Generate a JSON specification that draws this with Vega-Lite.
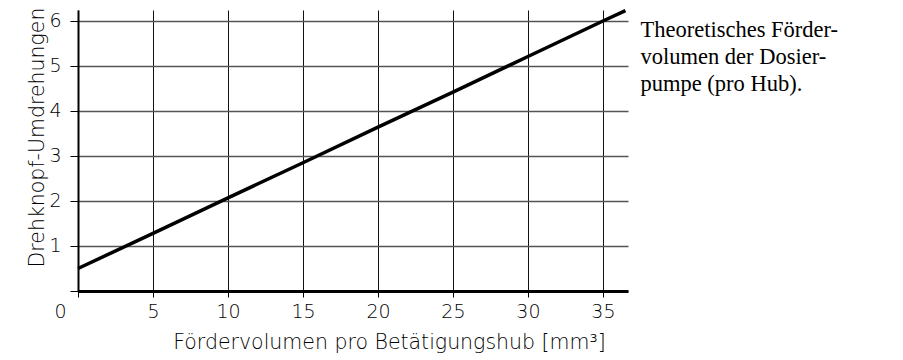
{
  "$schema": "https://vega.github.io/schema/vega-lite/v6.json",
  "width": 550,
  "height": 281,
  "autosize": {"type": "none"},
  "padding": {"left": 78, "top": 10, "right": 275, "bottom": 69},
  "background": "white",
  "config": {
    "view": {"stroke": null},
    "axis": {
      "labelFont": "DejaVu Sans",
      "labelFontWeight": 200,
      "labelFontSize": 19,
      "labelColor": "#000",
      "titleFont": "DejaVu Sans",
      "titleFontWeight": 200,
      "titleFontSize": 20.5,
      "titleColor": "#000",
      "tickColor": "#000",
      "domainColor": "#000"
    }
  },
  "layer": [
    {
      "data": {
        "values": [
          {"v": 0, "u": 0.5},
          {"v": 5, "u": 1.28},
          {"v": 10, "u": 2.07},
          {"v": 15, "u": 2.85},
          {"v": 20, "u": 3.64},
          {"v": 25, "u": 4.42},
          {"v": 30, "u": 5.21},
          {"v": 35, "u": 6.0},
          {"v": 36.5, "u": 6.23}
        ]
      },
      "mark": {"type": "line", "color": "#000", "strokeWidth": 3.5, "clip": false},
      "encoding": {
        "x": {
          "field": "v",
          "type": "quantitative",
          "scale": {"domain": [0, 36.67], "nice": false, "zero": false},
          "axis": {
            "values": [0, 5, 10, 15, 20, 25, 30, 35],
            "title": "Fördervolumen pro Betätigungshub [mm³]",
            "titleX": 311,
            "titleY": 57,
            "titleBaseline": "alphabetic",
            "domainWidth": 3,
            "tickSize": 6,
            "tickWidth": 1,
            "labelPadding": 5,
            "labelFlush": false,
            "labelOffset": {"condition": {"test": "datum.value == 0", "value": -18}, "value": 0},
            "grid": true,
            "gridColor": "#111",
            "gridWidth": 1,
            "gridOpacity": 1
          }
        },
        "y": {
          "field": "u",
          "type": "quantitative",
          "scale": {"domain": [0, 6.244], "nice": false, "zero": false},
          "axis": {
            "values": [0, 1, 2, 3, 4, 5, 6],
            "labelExpr": "datum.value == 0 ? '' : datum.label",
            "title": "Drehknopf-Umdrehungen",
            "titleX": -35,
            "titleY": 127,
            "titleAngle": -90,
            "titleBaseline": "alphabetic",
            "titleAlign": "center",
            "titleFontSize": 20.5,
            "domainWidth": 2,
            "tickSize": 8,
            "tickWidth": 1,
            "labelPadding": 9,
            "labelBaseline": "middle",
            "grid": true,
            "gridColor": "#555",
            "gridWidth": 1.3,
            "gridOpacity": 1
          }
        }
      }
    },
    {
      "data": {"values": [{"note": "Theoretisches Fördervolumen der Dosierpumpe (pro Hub)."}]},
      "mark": {
        "type": "text",
        "font": "Liberation Serif",
        "fontSize": 22.5,
        "align": "left",
        "baseline": "alphabetic",
        "lineHeight": 27,
        "color": "#000"
      },
      "encoding": {
        "x": {"datum": 37.5},
        "y": {"datum": 5.644},
        "text": {"value": ["Theoretisches Förder-", "volumen der Dosier-", "pumpe (pro Hub)."]}
      }
    }
  ]
}
